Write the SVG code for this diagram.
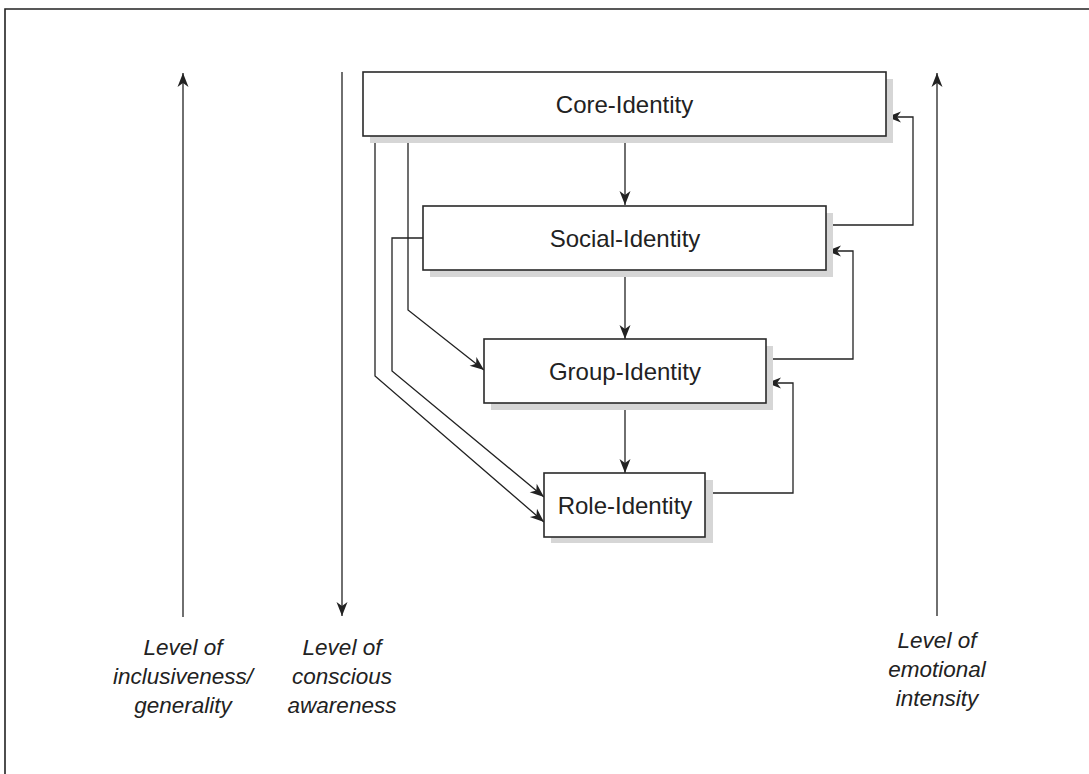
<svg xmlns="http://www.w3.org/2000/svg" width="1089" height="774" viewBox="0 0 1089 774">
  <style>
    .frame { fill: none; stroke: #222; stroke-width: 1.6; }
    .box { fill: #fff; stroke: #2a2a2a; stroke-width: 1.6; }
    .shadow { fill: #d6d6d6; stroke: none; }
    .label { font-family: "Liberation Sans", Arial, sans-serif; font-size: 24px; fill: #222; text-anchor: middle; }
    .axis-label { font-family: "Liberation Sans", Arial, sans-serif; font-size: 22.5px; font-style: italic; fill: #222; text-anchor: middle; }
    .link { fill: none; stroke: #222; stroke-width: 1.3; }
  </style>
  <defs>
    <marker id="arrow" viewBox="-15 -7 16 14" refX="0" refY="0" markerWidth="16" markerHeight="14" markerUnits="userSpaceOnUse" orient="auto">
      <path d="M0,0 L-14,-5.5 L-10,0 L-14,5.5 Z" fill="#222"/>
    </marker>
  </defs>

  <rect width="1089" height="774" fill="#fff"/>

  <!-- outer frame (top and left edges) -->
  <path class="frame" d="M5,774 V9 H1089"/>

  <!-- scale axes -->
  <g id="axis-inclusiveness">
    <line class="link" x1="183" y1="617" x2="183" y2="73" marker-end="url(#arrow)"/>
    <text class="axis-label" x="183" y="655">Level of</text>
    <text class="axis-label" x="183" y="684">inclusiveness/</text>
    <text class="axis-label" x="183" y="713">generality</text>
  </g>
  <g id="axis-awareness">
    <line class="link" x1="342" y1="72" x2="342" y2="616" marker-end="url(#arrow)"/>
    <text class="axis-label" x="342" y="655">Level of</text>
    <text class="axis-label" x="342" y="684">conscious</text>
    <text class="axis-label" x="342" y="713">awareness</text>
  </g>
  <g id="axis-intensity">
    <line class="link" x1="937" y1="616" x2="937" y2="73" marker-end="url(#arrow)"/>
    <text class="axis-label" x="937" y="648">Level of</text>
    <text class="axis-label" x="937" y="677">emotional</text>
    <text class="axis-label" x="937" y="706">intensity</text>
  </g>

  <!-- connectors -->
  <g id="connectors">
    <line class="link" x1="625" y1="136" x2="625" y2="205" marker-end="url(#arrow)"/>
    <line class="link" x1="625" y1="270" x2="625" y2="339" marker-end="url(#arrow)"/>
    <line class="link" x1="625" y1="403" x2="625" y2="473" marker-end="url(#arrow)"/>
    <polyline class="link" points="826,225 913,225 913,117 887,117" marker-end="url(#arrow)"/>
    <polyline class="link" points="766,359 853,359 853,251 827,251" marker-end="url(#arrow)"/>
    <polyline class="link" points="705,493 793,493 793,383 767,383" marker-end="url(#arrow)"/>
    <polyline class="link" points="408,136 408,310 484,370" marker-end="url(#arrow)"/>
    <polyline class="link" points="423,238 392,238 392,371 544,497" marker-end="url(#arrow)"/>
    <polyline class="link" points="375,136 375,376 544,522" marker-end="url(#arrow)"/>
  </g>

  <!-- identity levels -->
  <g id="core-identity">
    <rect class="shadow" x="370" y="79" width="523" height="64"/>
    <rect class="box" x="363" y="72" width="523" height="64"/>
    <text class="label" x="624.5" y="112.5">Core-Identity</text>
  </g>
  <g id="social-identity">
    <rect class="shadow" x="430" y="213" width="403" height="64"/>
    <rect class="box" x="423" y="206" width="403" height="64"/>
    <text class="label" x="625" y="246.5">Social-Identity</text>
  </g>
  <g id="group-identity">
    <rect class="shadow" x="491" y="346" width="282" height="64"/>
    <rect class="box" x="484" y="339" width="282" height="64"/>
    <text class="label" x="625" y="379.5">Group-Identity</text>
  </g>
  <g id="role-identity">
    <rect class="shadow" x="551" y="480" width="162" height="63"/>
    <rect class="box" x="544" y="473" width="161" height="64"/>
    <text class="label" x="625" y="513.5">Role-Identity</text>
  </g>
</svg>
